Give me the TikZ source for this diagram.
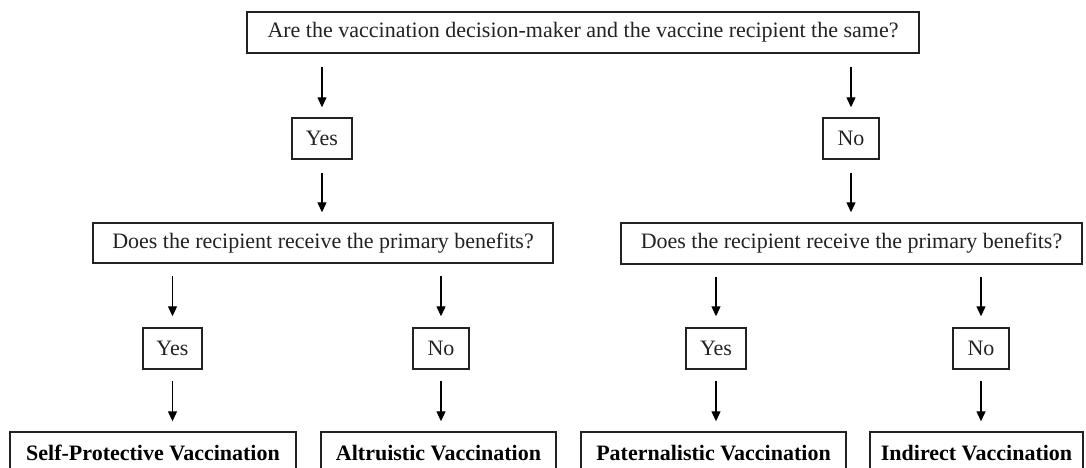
\documentclass[tikz,border=0pt]{standalone}
\usepackage{fontspec}
\setmainfont{Liberation Serif}
\usetikzlibrary{arrows.meta}
\definecolor{ink}{HTML}{222222}
\tikzset{
  qbox/.style={draw=ink, line width=1.4pt, inner sep=0pt, text=ink,
    font=\fontsize{22}{26}\selectfont, anchor=center},
  ansbox/.style={qbox},
  resbox/.style={qbox, font=\fontsize{22}{26}\selectfont\bfseries, text=black},
  arr/.style={draw=black, line width=1.2pt, -{Triangle[width=9pt,length=10pt]}}
}
\begin{document}
\begin{tikzpicture}[x=1pt,y=-1pt]
\useasboundingbox (0,0) rectangle (1086,468);
\clip (0,0) rectangle (1086,468);
% top question
\node[qbox, minimum width=672pt, minimum height=41pt] (top) at (583,32.5)
  {Are the vaccination decision-maker and the vaccine recipient the same?};
% first answers
\node[ansbox, minimum width=60pt, minimum height=41pt] (yes1) at (322,138.5) {Yes};
\node[ansbox, minimum width=56pt, minimum height=41pt] (no1) at (851,138.5) {No};
% second questions
\node[qbox, minimum width=460pt, minimum height=40pt] (ql) at (323,243)
  {Does the recipient receive the primary benefits?};
\node[qbox, minimum width=461pt, minimum height=41pt] (qr) at (851.5,243.5)
  {Does the recipient receive the primary benefits?};
% second answers
\node[ansbox, minimum width=59pt, minimum height=41pt] (yes2l) at (172.5,348.5) {Yes};
\node[ansbox, minimum width=56pt, minimum height=41pt] (no2l) at (441,348.5) {No};
\node[ansbox, minimum width=60pt, minimum height=41pt] (yes2r) at (716,348.5) {Yes};
\node[ansbox, minimum width=56pt, minimum height=41pt] (no2r) at (981,348.5) {No};
% results
\node[resbox, minimum width=286pt, minimum height=42pt] (sp) at (153,453) {Self-Protective Vaccination};
\node[resbox, minimum width=235pt, minimum height=42pt] (alt) at (438.5,453) {Altruistic Vaccination};
\node[resbox, minimum width=265pt, minimum height=42pt] (pat) at (713.5,453) {Paternalistic Vaccination};
\node[resbox, minimum width=213pt, minimum height=42pt] (ind) at (976.5,453) {Indirect Vaccination};
% arrows level 1
\draw[arr, shorten <=13pt, shorten >=10pt] (top.south -| yes1.north) -- (yes1.north);
\draw[arr, shorten <=13pt, shorten >=10pt] (top.south -| no1.north) -- (no1.north);
% arrows level 2
\draw[arr, shorten <=13pt, shorten >=10pt] (yes1.south) -- (yes1.south |- ql.north);
\draw[arr, shorten <=13pt, shorten >=10pt] (no1.south) -- (no1.south |- qr.north);
% arrows level 3
\draw[arr, shorten <=12pt, shorten >=11pt] (ql.south -| yes2l.north) -- (yes2l.north);
\draw[arr, shorten <=12pt, shorten >=11pt] (ql.south -| no2l.north) -- (no2l.north);
\draw[arr, shorten <=12pt, shorten >=11pt] (qr.south -| yes2r.north) -- (yes2r.north);
\draw[arr, shorten <=12pt, shorten >=11pt] (qr.south -| no2r.north) -- (no2r.north);
% arrows level 4
\draw[arr, shorten <=11pt, shorten >=10pt] (yes2l.south) -- (yes2l.south |- sp.north);
\draw[arr, shorten <=11pt, shorten >=10pt] (no2l.south) -- (no2l.south |- alt.north);
\draw[arr, shorten <=11pt, shorten >=10pt] (yes2r.south) -- (yes2r.south |- pat.north);
\draw[arr, shorten <=11pt, shorten >=10pt] (no2r.south) -- (no2r.south |- ind.north);
\end{tikzpicture}
\end{document}
